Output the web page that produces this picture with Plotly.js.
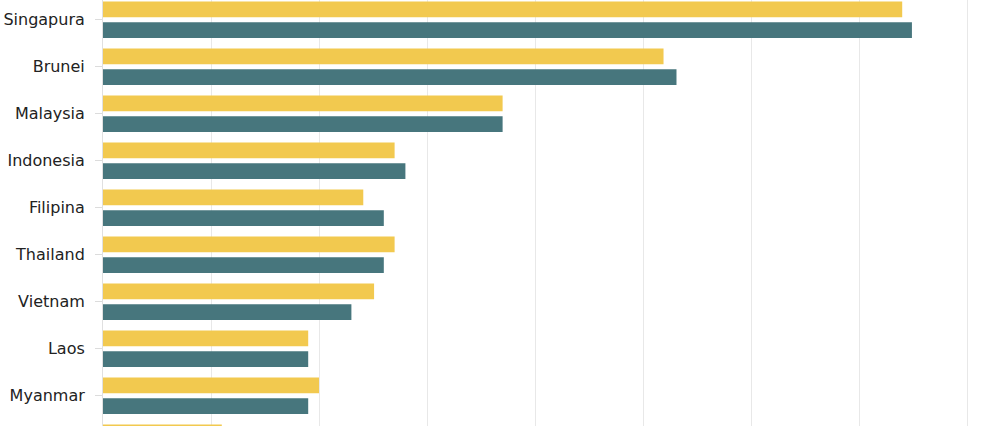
<!DOCTYPE html>
<html>
<head>
<meta charset="utf-8">
<script src="https://cdn.plot.ly/plotly-3.0.1.min.js"></script>
<style>html,body{margin:0;padding:0;background:#fff;}#chart{width:983px;height:426px;}</style>
</head>
<body>
<div id="chart"></div>
<script>
var countries = ["Singapura","Brunei","Malaysia","Indonesia","Filipina","Thailand","Vietnam","Laos","Myanmar","Kamboja"];
var seriesA = [74.0, 51.9, 37.0, 27.0, 24.1, 27.0, 25.1, 19.0, 20.0, 11.0];
var seriesB = [74.9, 53.1, 37.0, 28.0, 26.0, 26.0, 23.0, 19.0, 19.0, 11.0];

var traces = [
  {type:"bar", orientation:"h", y:countries, x:seriesA, name:"A",
   marker:{color:"#F2C94F"}, hoverinfo:"x+y"},
  {type:"bar", orientation:"h", y:countries, x:seriesB, name:"B",
   marker:{color:"#47767D"}, hoverinfo:"x+y"}
];
var layout = {
  width:983, height:426,
  margin:{l:103, r:0, t:0, b:0, pad:0},
  paper_bgcolor:"#fff", plot_bgcolor:"#fff",
  showlegend:false,
  barmode:"group", bargap:0.12, bargroupgap:0.24,
  font:{family:"DejaVu Sans", size:16, color:"#222"},
  xaxis:{range:[0, 81.48], dtick:10, showticklabels:false, showgrid:true,
         gridcolor:"#e8e8e8", gridwidth:1, zeroline:false, showline:false},
  yaxis:{type:"category", range:[8.645, -0.419], showgrid:false, zeroline:false,
         showline:true, linecolor:"#e0e0e0", linewidth:1,
         ticks:"outside", ticklen:7, tickcolor:"#dcdcdc", ticklabelstandoff:7,
         tickfont:{family:"DejaVu Sans", size:16, color:"#222"}}
};
Plotly.newPlot("chart", traces, layout, {displayModeBar:false, staticPlot:true});
</script>
</body>
</html>
